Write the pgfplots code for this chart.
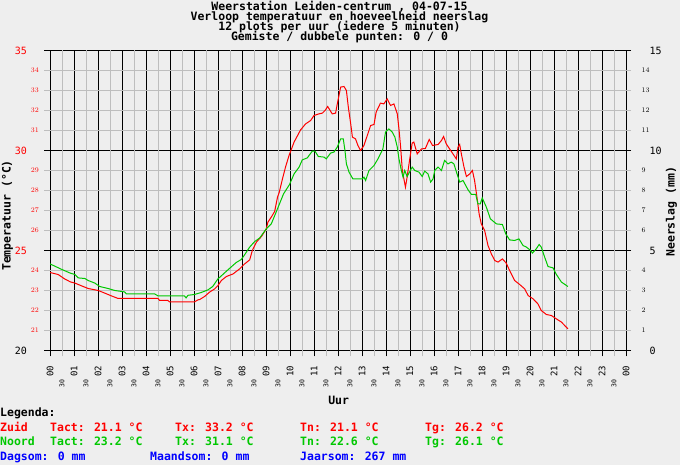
\documentclass[border=0pt]{standalone}
\usepackage{fontspec}
\setmainfont{DejaVu Sans Mono}
\usepackage{pgfplots}
\pgfplotsset{compat=1.18}
\definecolor{bg}{RGB}{238,238,238}
\definecolor{gridgray}{RGB}{190,190,190}
\definecolor{wred}{RGB}{255,0,0}
\definecolor{wgreen}{RGB}{0,200,0}
\definecolor{wblue}{RGB}{0,0,255}
\newcommand{\bigtick}{\fontsize{10}{10}\selectfont}
\newcommand{\smalltick}{\fontsize{7}{7}\selectfont}
\newcommand{\hourfont}{\fontsize{9}{9}\selectfont}
\newcommand{\halffont}{\fontsize{6.5}{6.5}\selectfont}
\newcommand{\btxt}{\fontsize{11.5}{11.5}\selectfont\bfseries}
\newcommand{\hh}{{\halffont 30}\hspace*{13.5pt}}
\pgfplotstableread{
h T
0.00 23.9
0.34 23.8
0.62 23.57
0.85 23.43
1.04 23.37
1.32 23.23
1.59 23.1
2.01 23.0
2.28 22.87
2.56 22.73
2.84 22.6
4.50 22.6
4.57 22.5
4.91 22.5
4.98 22.43
6.02 22.43
6.16 22.53
6.24 22.55
6.44 22.7
6.65 22.92
6.86 23.08
7.00 23.25
7.14 23.5
7.35 23.7
7.63 23.83
7.90 24.08
8.11 24.33
8.32 24.53
8.43 25.0
8.60 25.42
8.81 25.7
9.01 26.08
9.08 26.42
9.22 26.67
9.36 26.95
9.48 27.67
9.55 27.9
9.69 28.6
9.82 29.2
9.96 29.75
10.17 30.42
10.44 31.03
10.65 31.33
10.86 31.5
11.00 31.75
11.20 31.83
11.35 31.87
11.46 32.0
11.57 32.2
11.76 31.83
11.90 31.87
11.97 32.33
12.11 33.17
12.25 33.2
12.35 33.0
12.43 32.17
12.53 31.33
12.60 30.67
12.73 30.58
12.83 30.25
12.94 30.0
13.08 30.25
13.22 30.75
13.36 31.25
13.50 31.3
13.59 31.92
13.77 32.37
13.91 32.33
14.05 32.58
14.19 32.25
14.33 32.33
14.47 31.83
14.54 31.08
14.61 30.17
14.68 29.0
14.81 28.17
14.88 28.67
14.98 29.5
15.09 30.37
15.16 30.42
15.30 29.83
15.48 30.08
15.64 30.1
15.80 30.55
15.94 30.25
16.17 30.3
16.31 30.5
16.40 30.7
16.51 30.33
16.65 30.08
16.79 29.83
16.93 29.58
17.00 30.17
17.07 30.3
17.14 29.83
17.25 29.17
17.35 28.7
17.49 28.83
17.60 29.0
17.69 28.5
17.79 27.67
17.88 26.83
17.97 26.33
18.11 26.0
18.25 25.25
18.39 24.83
18.53 24.5
18.67 24.42
18.85 24.58
19.01 24.37
19.15 24.0
19.36 23.5
19.57 23.3
19.78 23.08
19.92 22.75
20.13 22.58
20.33 22.33
20.47 22.0
20.68 21.8
20.89 21.75
21.10 21.58
21.31 21.42
21.58 21.08
}\zuid
\pgfplotstableread{
h T
0.00 24.33
0.46 24.07
0.84 23.87
1.04 23.8
1.18 23.63
1.45 23.6
1.59 23.5
1.87 23.37
2.07 23.2
2.42 23.1
2.70 23.0
3.11 22.93
3.18 22.83
4.36 22.83
4.50 22.73
5.60 22.73
5.67 22.63
5.75 22.76
6.02 22.8
6.30 22.9
6.58 23.03
6.78 23.2
6.99 23.57
7.41 24.03
7.76 24.4
7.97 24.55
8.10 24.77
8.32 25.17
8.53 25.45
8.74 25.63
9.01 26.08
9.22 26.33
9.45 27.0
9.73 27.83
9.98 28.3
10.17 28.83
10.38 29.17
10.51 29.53
10.72 29.63
10.93 29.97
11.04 29.97
11.18 29.7
11.42 29.67
11.51 29.58
11.69 29.87
11.83 29.92
11.97 30.17
12.11 30.58
12.22 30.58
12.29 30.0
12.35 29.33
12.46 28.92
12.62 28.58
13.01 28.58
13.08 28.67
13.15 28.5
13.29 29.0
13.50 29.25
13.64 29.53
13.77 29.83
13.87 30.08
13.98 30.92
14.12 31.08
14.26 30.92
14.37 30.67
14.47 30.17
14.54 29.58
14.64 29.0
14.71 28.67
14.78 29.0
14.88 28.7
14.98 28.92
15.09 29.17
15.20 29.0
15.37 28.92
15.51 28.7
15.61 28.97
15.75 28.83
15.86 28.42
15.96 28.58
16.03 29.0
16.17 29.17
16.31 29.0
16.44 29.5
16.58 29.33
16.72 29.42
16.83 29.33
16.96 28.83
17.07 28.42
17.21 28.5
17.42 28.03
17.56 27.8
17.74 27.8
17.83 27.33
17.93 27.33
18.01 27.63
18.18 27.17
18.35 26.58
18.60 26.33
18.85 26.3
18.99 25.83
19.15 25.53
19.36 25.5
19.54 25.58
19.71 25.25
19.85 25.17
20.03 25.0
20.10 24.87
20.26 25.08
20.38 25.3
20.47 25.17
20.61 24.67
20.75 24.2
20.96 24.13
21.10 23.8
21.31 23.42
21.58 23.2
}\noord
\begin{document}
\begin{tikzpicture}[x=1pt,y=1pt]
\fill[bg] (0,0) rectangle (680,465);
\useasboundingbox (0,0) rectangle (680,465);
\begin{axis}[
  at={(50pt,114.5pt)}, anchor=south west,
  scale only axis, width=576pt, height=300pt,
  xmin=0, xmax=24, ymin=20, ymax=35,
  axis line style={black, line width=1pt},
  tick align=outside, major tick length=6pt,
  xtick pos=bottom, ytick pos=left,
  every tick/.style={black, line width=1pt},
  grid=major,
  major grid style={black, line width=1pt},
  xtick={0,...,24},
  xticklabels={00,01,02,03,04,05,06,07,08,09,10,11,12,13,14,15,16,17,18,19,20,21,22,23,00},
  xticklabel style={yshift=-9pt, rotate=90, anchor=east, inner sep=0pt, font=\hourfont, black},
  extra x ticks={0.5,1.5,...,23.5},
  extra x tick labels={\hh,\hh,\hh,\hh,\hh,\hh,\hh,\hh,\hh,\hh,\hh,\hh,\hh,\hh,\hh,\hh,\hh,\hh,\hh,\hh,\hh,\hh,\hh,\hh},
  extra x tick style={grid=major, major grid style={gridgray, line width=1pt}, tick style={gridgray, line width=1pt}},
  ytick={20,25,30,35},
  yticklabels={{\textcolor{black}{20}\hspace*{12pt}},{25\hspace*{12pt}},{30\hspace*{12pt}},{35\hspace*{12pt}}},
  yticklabel style={wred, font=\bigtick, inner sep=0pt, anchor=east, xshift=-5pt},
  extra y ticks={21,22,23,24,26,27,28,29,31,32,33,34},
  extra y tick style={grid=major, major grid style={gridgray, line width=1pt}, tick style={gridgray, line width=1pt},
     yticklabel style={font=\smalltick}},
]
\addplot[wred, line width=1pt] table[x=h, y=T] {\zuid};
\addplot[wgreen, line width=1pt] table[x=h, y=T] {\noord};
\end{axis}
\begin{axis}[
  at={(50pt,114.5pt)}, anchor=south west,
  scale only axis, width=576pt, height=300pt,
  xmin=0, xmax=24, ymin=0, ymax=15,
  hide x axis, axis y line*=right,
  axis line style={black, line width=1pt},
  tick align=outside, major tick length=5pt,
  every tick/.style={black, line width=1pt},
  ytick={0,5,10,15},
  yticklabels={{\hspace*{8pt}0},{\hspace*{8pt}5},{\hspace*{8pt}10},{\hspace*{8pt}15}},
  yticklabel style={black, font=\bigtick, inner sep=0pt, anchor=west, xshift=10.5pt},
  extra y ticks={1,2,3,4,6,7,8,9,11,12,13,14},
  extra y tick style={tick style={gridgray, line width=1pt}, yticklabel style={font=\smalltick}},
]
\end{axis}
% titles
\node[anchor=base, inner sep=0pt, font=\btxt] at (339.5,454.3) {Weerstation Leiden-centrum , 04-07-15};
\node[anchor=base, inner sep=0pt, font=\btxt] at (339.5,444.3) {Verloop temperatuur en hoeveelheid neerslag};
\node[anchor=base, inner sep=0pt, font=\btxt] at (339.5,434.3) {12 plots per uur (iedere 5 minuten)};
\node[anchor=base, inner sep=0pt, font=\btxt] at (339.5,424.3) {Gemiste / dubbele punten: 0 / 0};
% axis labels
\node[rotate=90, inner sep=0pt, font=\btxt] at (7.5,249.5) {Temperatuur (°C)};
\node[rotate=90, inner sep=0pt, font=\btxt] at (671.5,253.3) {Neerslag (mm)};
\node[anchor=base, inner sep=0pt, font=\btxt] at (338.7,60) {Uur};
% legend
\node[anchor=base west, inner sep=0pt, font=\btxt] at (0,48.3) {Legenda:};
\begin{scope}[every node/.style={anchor=base west, inner sep=0pt, font=\btxt, text=wred}]
\node at (0,33) {Zuid};
\node at (50,33) {Tact: 21.1 °C};
\node at (175,33) {Tx: 33.2 °C};
\node at (300,33) {Tn: 21.1 °C};
\node at (425,33) {Tg: 26.2 °C};
\end{scope}
\begin{scope}[every node/.style={anchor=base west, inner sep=0pt, font=\btxt, text=wgreen}]
\node at (0,19) {Noord};
\node at (50,19) {Tact: 23.2 °C};
\node at (175,19) {Tx: 31.1 °C};
\node at (300,19) {Tn: 22.6 °C};
\node at (425,19) {Tg: 26.1 °C};
\end{scope}
\begin{scope}[every node/.style={anchor=base west, inner sep=0pt, font=\btxt, text=wblue}]
\node at (0,4.3) {Dagsom: 0 mm};
\node at (150,4.3) {Maandsom: 0 mm};
\node at (300,4.3) {Jaarsom: 267 mm};
\end{scope}
\end{tikzpicture}
\end{document}
